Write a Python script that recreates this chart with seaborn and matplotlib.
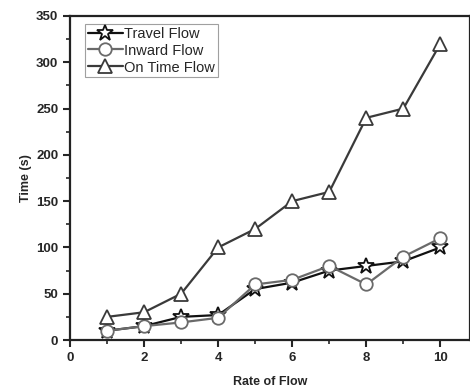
import matplotlib
matplotlib.use("Agg")
import matplotlib.pyplot as plt
import seaborn as sns
import pandas as pd
from matplotlib.ticker import MultipleLocator

rate = [1, 2, 3, 4, 5, 6, 7, 8, 9, 10]
travel_flow = [10, 15, 25, 27, 55, 62, 75, 80, 85, 100]
inward_flow = [10, 15, 19, 24, 60, 65, 80, 60, 90, 110]
on_time_flow = [25, 30, 50, 100, 120, 150, 160, 240, 250, 320]

series = [
    ("Travel Flow", travel_flow, "*", "#111111", 12),
    ("Inward Flow", inward_flow, "o", "#6a6a6a", 9),
    ("On Time Flow", on_time_flow, "^", "#3a3a3a", 10),
]

sns.set_style("ticks")
plt.rcParams["font.family"] = ["Liberation Sans", "DejaVu Sans"]

fig = plt.figure(figsize=(4.7, 3.87), dpi=100)
ax = fig.add_axes([0.149, 0.1214, 0.851, 0.8373])

for name, vals, mk, col, ms in series:
    df = pd.DataFrame({"rate": rate, "time": vals})
    sns.lineplot(data=df, x="rate", y="time", ax=ax, label=name, color=col,
                 marker=mk, markersize=ms, markerfacecolor="white",
                 markeredgecolor=col, markeredgewidth=1.3, linewidth=1.6)

ax.set_xlim(0, 10.8)
ax.set_ylim(0, 350)
ax.xaxis.set_major_locator(MultipleLocator(2))
ax.xaxis.set_minor_locator(MultipleLocator(1))
ax.yaxis.set_major_locator(MultipleLocator(50))
ax.yaxis.set_minor_locator(MultipleLocator(25))
ax.tick_params(which="major", direction="out", length=5, width=1.5, labelsize=9.5)
ax.tick_params(which="minor", direction="out", length=3, width=1.2)
for lbl in ax.get_xticklabels() + ax.get_yticklabels():
    lbl.set_fontweight("bold")
for sp in ax.spines.values():
    sp.set_linewidth(1.6)
    sp.set_color("#222222")

ax.set_xlabel("Rate of Flow", fontsize=9, fontweight="bold", labelpad=9)
ax.set_ylabel("Time (s)", fontsize=9, fontweight="bold", labelpad=3)

leg = ax.legend(loc="upper left", bbox_to_anchor=(0.03, 0.985), fontsize=10.5,
                frameon=True, fancybox=False, edgecolor="#888888",
                borderpad=0.2, labelspacing=0.2, handlelength=2.4,
                handletextpad=0.1, borderaxespad=0.2)
leg.get_frame().set_linewidth(0.8)

fig.savefig("out.png", dpi=100)
